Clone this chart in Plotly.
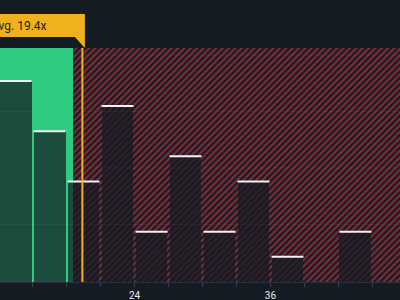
import plotly.graph_objects as go

# ---- data ----
bin_starts = [12, 15, 18, 21, 24, 27, 30, 33, 36, 39, 42]
counts = [8, 6, 4, 7, 2, 5, 2, 4, 1, 0, 2]
bin_width = 3
avg_value = 19.4
good_value_limit = 18.6
tick_values = [12, 24, 36, 48]
tick_labels = ["12", "24", "36", "48"]
avg_label = "Avg. 19.4x"

# ---- styling ----
BG = "#151b23"
GREEN = "#2ecc80"
RED = "#e23c49"
ORANGE = "#efb21e"
BAR = "rgba(21,27,35,0.72)"

x_range = [12.13, 47.43]
y_range = [0, 9.31]
W, H = 400, 300
MT, MB = 48, 18
plot_h = H - MT - MB

centers = [s + bin_width / 2 for s in bin_starts]
bar_w = bin_width * 0.94

fig = go.Figure()

# hatched "overvalued" region (as a bar so it sits beneath the histogram bars)
hatch_x0 = good_value_limit
hatch_x1 = x_range[1] + 2
fig.add_trace(go.Bar(
    x=[(hatch_x0 + hatch_x1) / 2], y=[y_range[1] + 1], base=[0], width=[hatch_x1 - hatch_x0],
    marker=dict(color=BG, line=dict(width=0),
                pattern=dict(shape="/", fgcolor=RED, bgcolor=BG, size=4.5, solidity=0.5)),
    hoverinfo="skip", showlegend=False,
))

fig.add_trace(go.Bar(
    x=centers, y=counts, width=bar_w, base=0,
    marker=dict(color=BAR, line=dict(width=0)),
    showlegend=False, hoverinfo="skip",
))

shapes = []
# green region
shapes.append(dict(type="rect", xref="x", yref="y", x0=x_range[0] - 1, x1=good_value_limit,
                   y0=0, y1=y_range[1] + 1, fillcolor=GREEN, line=dict(width=0), layer="below"))
# bar top lines
for c, n in zip(centers, counts):
    if n > 0:
        shapes.append(dict(type="line", xref="x", yref="y", x0=c - bar_w / 2, x1=c + bar_w / 2,
                           y0=n, y1=n, line=dict(color="#f2f2f2", width=2), layer="above"))
# faint grid lines
for py in [55, 111.5, 168, 224.5]:
    yp = (H - MB - py) / plot_h
    shapes.append(dict(type="line", xref="paper", yref="paper", x0=0, x1=1, y0=yp, y1=yp,
                       line=dict(color="rgba(255,255,255,0.04)", width=1), layer="above"))
# average line
shapes.append(dict(type="line", xref="x", yref="y", x0=avg_value, x1=avg_value,
                   y0=0, y1=y_range[1], line=dict(color=ORANGE, width=2), layer="above"))

# callout box
pa = (avg_value - x_range[0]) / (x_range[1] - x_range[0])
def py2paper(py):
    return (H - MB - py) / plot_h
br = pa + 2.5 / W
top = py2paper(14)
bot = py2paper(37)
tip = py2paper(48)
tl = pa - 7.5 / W
path = f"M -0.1,{top} L {br},{top} L {br},{tip} L {tl},{bot} L -0.1,{bot} Z"
shapes.append(dict(type="path", xref="paper", yref="paper", path=path,
                   fillcolor=ORANGE, line=dict(width=0), layer="above"))

fig.add_annotation(text=avg_label, xref="paper", yref="paper",
                   x=pa - 33 / W, y=py2paper(26), xanchor="right", yanchor="middle",
                   showarrow=False, font=dict(family="Roboto", size=12, color="#1a1e25"))

fig.update_layout(
    width=W, height=H,
    margin=dict(l=0, r=0, t=MT, b=MB, pad=0),
    paper_bgcolor=BG, plot_bgcolor=BG,
    shapes=shapes, barmode="overlay", bargap=0,
    xaxis=dict(range=x_range, tickvals=tick_values, ticktext=tick_labels, automargin=False,
               showgrid=False, zeroline=False, showline=True, linecolor="#2b313a", linewidth=1,
               ticks="outside", ticklen=4, tickcolor="#3b414b", ticklabelstandoff=0,
               tickfont=dict(family="Roboto", size=10, color="#ececec"),
               minor=dict(dtick=bin_width, tick0=0, ticks="outside", ticklen=4, tickcolor="#3b414b",
                          showgrid=False)),
    yaxis=dict(range=y_range, visible=False, showgrid=False, zeroline=False, fixedrange=True),
)

fig.write_html("out.html")
